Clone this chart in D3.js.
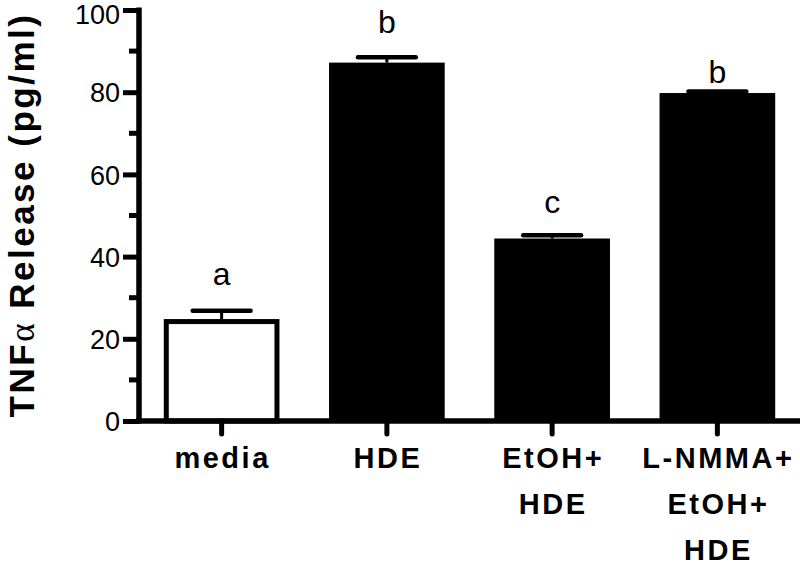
<!DOCTYPE html>
<html>
<head>
<meta charset="utf-8">
<script src="https://cdn.jsdelivr.net/npm/d3@7"></script>
<style>
  body { margin: 0; background: #fff; }
  text { font-family: "Liberation Sans", Arial, sans-serif; fill: #000; }
</style>
</head>
<body>
<div id="chart"></div>
<script>
// data
var groups = ["media", "HDE", "EtOH+HDE", "L-NMMA+EtOH+HDE"];
var groupLines = [["media"], ["HDE"], ["EtOH+", "HDE"], ["L-NMMA+", "EtOH+", "HDE"]];
var means = [24.8, 87.2, 44.4, 79.8];
var sems = [2.0, 1.3, 0.8, 0.4];
var letters = ["a", "b", "c", "b"];
var letterAt = [33.1, 94.4, 50.6, 82.2];
var fills = ["#fff", "#000", "#000", "#000"];
var yTicks = [0, 20, 40, 60, 80, 100];
var yMinor = [10, 30, 50, 70, 90];

var W = 800, H = 566;

var svg = d3.select("#chart").append("svg")
  .attr("width", W)
  .attr("height", H);

// scales
var x = d3.scaleBand()
  .domain(groups)
  .range([139, 800])
  .paddingInner(0.3)
  .paddingOuter(0.15);

var y = d3.scaleLinear()
  .domain([0, 100])
  .range([421, 10]);

// bars
svg.selectAll(".bar")
  .data(groups)
  .enter()
  .append("rect")
  .attr("class", "bar")
  .attr("x", function (d, i) { return x(d) + (i == 0 ? 2.5 : 0); })
  .attr("width", function (d, i) { return x.bandwidth() - (i == 0 ? 5 : 0); })
  .attr("y", function (d, i) { return y(means[i]) + (i == 0 ? 2.5 : 0); })
  .attr("height", function (d, i) { return y(0) - y(means[i]) - (i == 0 ? 2.5 : 0); })
  .attr("fill", function (d, i) { return fills[i]; })
  .attr("stroke", "#000")
  .attr("stroke-width", function (d, i) { return i == 0 ? 5 : 0; });

// error bars (upper only)
groups.forEach(function (g, i) {
  var cx = x(g) + x.bandwidth() / 2;
  var top = y(means[i] + sems[i]);
  svg.append("line")
    .attr("x1", cx).attr("x2", cx)
    .attr("y1", y(means[i])).attr("y2", top)
    .attr("stroke", "#000").attr("stroke-width", 3);
  svg.append("line")
    .attr("x1", cx - x.bandwidth() / 4).attr("x2", cx + x.bandwidth() / 4)
    .attr("y1", top).attr("y2", top)
    .attr("stroke", "#000").attr("stroke-width", 4.5)
    .attr("stroke-linecap", "round");
  svg.append("text")
    .attr("x", cx)
    .attr("y", y(letterAt[i]))
    .attr("text-anchor", "middle")
    .style("font-size", "32px")
    .text(letters[i]);
});

// y axis
var yAxis = svg.append("g")
  .attr("transform", "translate(139,0)")
  .call(d3.axisLeft(y).tickValues(yTicks).tickSize(16).tickPadding(3));
yAxis.select(".domain").remove();
yAxis.selectAll(".tick line").attr("stroke-width", 5);
yAxis.selectAll(".tick text")
  .style("font-size", "27px")
  .attr("dy", function (d) { return d == 100 ? "0.5em" : "0.36em"; });

svg.append("g")
  .selectAll("line")
  .data(yMinor)
  .enter()
  .append("line")
  .attr("x1", 129).attr("x2", 139)
  .attr("y1", function (d) { return y(d); })
  .attr("y2", function (d) { return y(d); })
  .attr("stroke", "#000").attr("stroke-width", 5);

svg.append("line")
  .attr("x1", 139).attr("x2", 139)
  .attr("y1", y(100) - 2.5).attr("y2", y(0) + 2.5)
  .attr("stroke", "#000").attr("stroke-width", 5.5);

// x axis
svg.append("line")
  .attr("x1", 136).attr("x2", 800)
  .attr("y1", y(0)).attr("y2", y(0))
  .attr("stroke", "#000").attr("stroke-width", 5.5);

var xg = svg.append("g");
groups.forEach(function (g, i) {
  var cx = x(g) + x.bandwidth() / 2;
  xg.append("line")
    .attr("x1", cx).attr("x2", cx)
    .attr("y1", y(0)).attr("y2", y(0) + 13)
    .attr("stroke", "#000").attr("stroke-width", 5)
    .attr("stroke-linecap", "round");
  var t = xg.append("text")
    .attr("text-anchor", "middle")
    .style("font-size", "29px")
    .style("font-weight", "bold")
    .style("letter-spacing", "2.5px");
  groupLines[i].forEach(function (line, k) {
    t.append("tspan")
      .attr("x", cx + 1)
      .attr("y", 468 + k * 46)
      .text(line);
  });
});

// y title
var title = svg.append("text")
  .attr("transform", "translate(34,215) rotate(-90)")
  .attr("text-anchor", "middle")
  .style("font-size", "35px")
  .style("font-weight", "bold")
  .style("letter-spacing", "2.5px");
title.append("tspan").text("TNF");
title.append("tspan")
  .style("font-family", "'Liberation Serif', serif")
  .style("font-weight", "normal")
  .text("\u03b1");
title.append("tspan").text(" Release (pg/ml)");
</script>
</body>
</html>
